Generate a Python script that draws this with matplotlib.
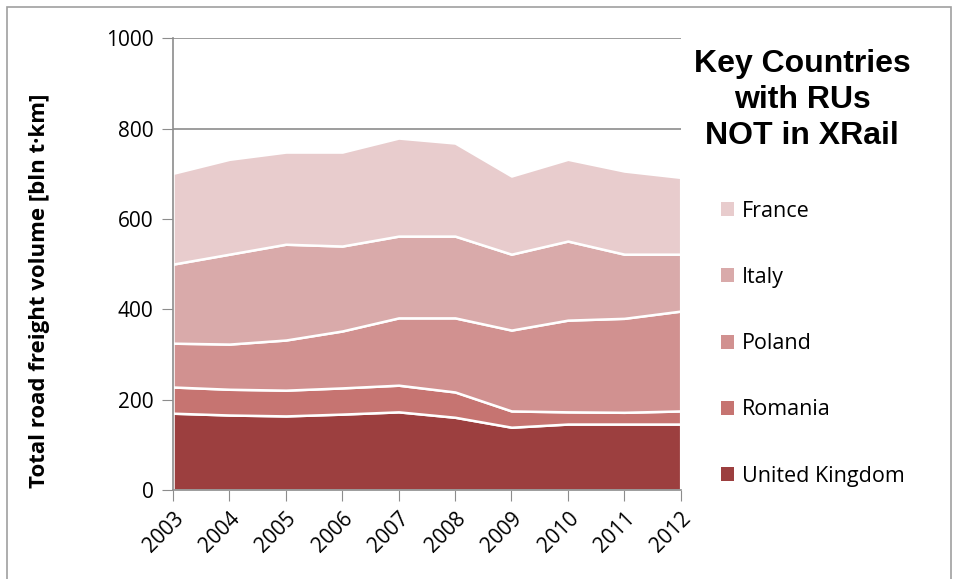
import numpy as np
import matplotlib
matplotlib.use("Agg")
from matplotlib import pyplot as plt
from matplotlib.patches import Rectangle, Patch

years = [2003, 2004, 2005, 2006, 2007, 2008, 2009, 2010, 2011, 2012]
countries = ['United Kingdom', 'Romania', 'Poland', 'Italy', 'France']
uk = [170, 166, 164, 168, 173, 161, 139, 146, 146, 146]
romania = [58, 57, 57, 58, 59, 56, 36, 27, 26, 29]
poland = [97, 100, 111, 126, 149, 164, 179, 203, 208, 221]
italy = [175, 199, 212, 188, 181, 181, 168, 175, 142, 126]
france = [201, 210, 204, 208, 217, 206, 173, 181, 184, 170]
colors = ['#9C3F3F', '#C67471', '#D19190', '#D9AAAA', '#E8CCCD']

plt.rcParams['font.family'] = ['Open Sans', 'DejaVu Sans']

fig = plt.figure(figsize=(9.56, 5.79), dpi=100)
ax = fig.add_axes([0.181, 0.1537, 0.531, 0.7803])

ax.stackplot(years, uk, romania, poland, italy, france, colors=colors,
             edgecolor='white', linewidth=1.8, zorder=2)

ax.set_xlim(2003, 2012)
ax.set_ylim(0, 1000)
ax.set_yticks([0, 200, 400, 600, 800, 1000])
ax.set_xticks(years)
ax.set_xticklabels([str(y) for y in years], rotation=45, ha='right',
                   rotation_mode='anchor', fontsize=15)
ax.tick_params(axis='y', labelsize=15, length=8, color='#8c8c8c', pad=6)
ax.tick_params(axis='x', length=8, color='#8c8c8c', pad=5)
ax.grid(axis='y', color='#8c8c8c', linewidth=1.2)
ax.set_axisbelow(True)
for s in ['top', 'right']:
    ax.spines[s].set_visible(False)
for s in ['left', 'bottom']:
    ax.spines[s].set_color('#8c8c8c')
    ax.spines[s].set_linewidth(1.2)

ax.set_ylabel('Total road freight volume [bln t·km]', fontsize=16,
              fontweight='bold')
ax.yaxis.set_label_coords(-0.242, 0.442)

fig.text(0.839, 0.827, 'Key Countries\nwith RUs\nNOT in XRail', ha='center',
         va='center', fontsize=23, fontweight='bold',
         family=['Liberation Sans'], linespacing=1.25)

handles = [Patch(facecolor=c) for c in colors[::-1]]
fig.legend(handles, countries[::-1], loc='upper left',
           bbox_to_anchor=(0.745, 0.668), frameon=False, fontsize=15.5,
           handlelength=0.62, handleheight=0.62, handletextpad=0.35,
           labelspacing=2.1, borderaxespad=0)

fig.patches.append(Rectangle((0.007, -0.01), 0.988, 0.998,
                             transform=fig.transFigure, fill=False,
                             edgecolor='#a0a0a0', linewidth=1.2))

plt.savefig('out.png', dpi=100)
